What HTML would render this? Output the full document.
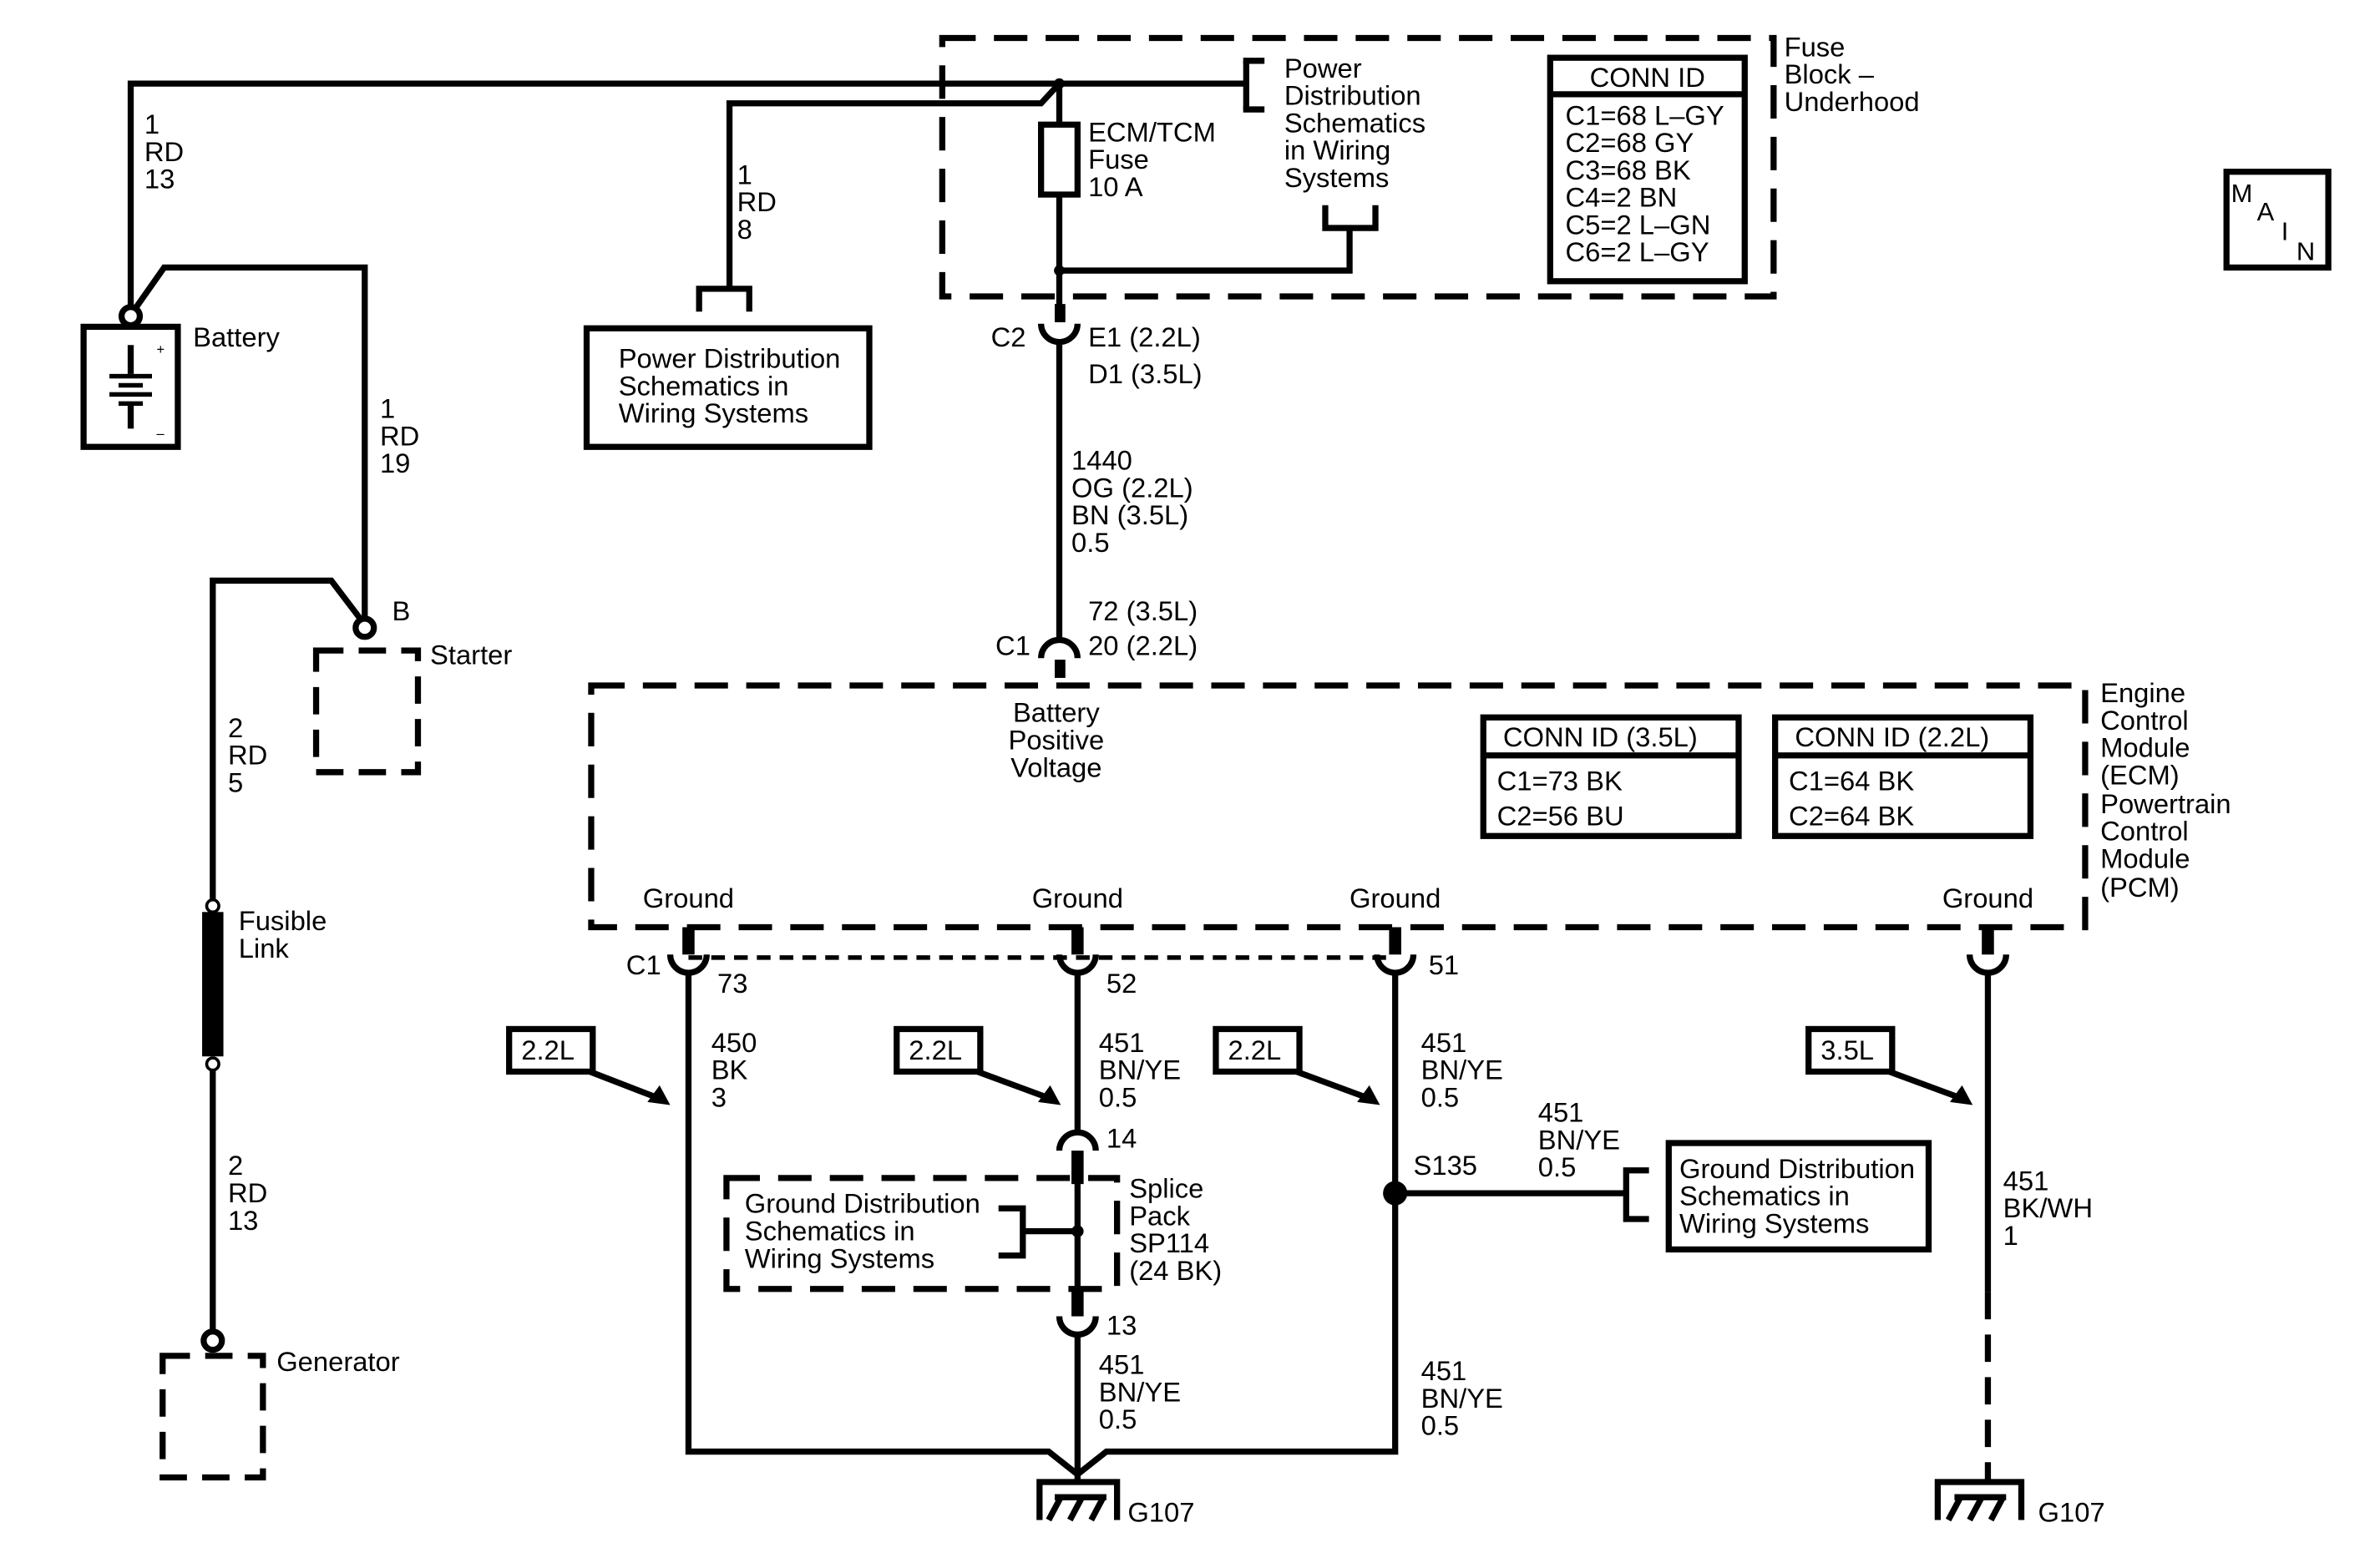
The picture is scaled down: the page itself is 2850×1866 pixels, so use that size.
<!DOCTYPE html>
<html><head><meta charset="utf-8"><style>
html,body{margin:0;padding:0;background:#fff}
svg{display:block}
text{font-family:"Liberation Sans",sans-serif;font-size:18px;fill:#000}
</style></head><body>
<svg width="2850" height="1866" viewBox="0 0 1566 1025" preserveAspectRatio="none" xmlns="http://www.w3.org/2000/svg">
<g fill="none" stroke="#000" stroke-width="4">
<polyline points="86,203 86,55 820,55"/>
<polyline points="480,190 480,68 685,68 697,55"/>
<polyline points="820,40 820,72"/><line x1="818" y1="40" x2="832" y2="40"/><line x1="818" y1="72" x2="832" y2="72"/>
<line x1="697" y1="55" x2="697" y2="205"/>
<rect x="685" y="82" width="24" height="46" fill="#fff"/>
<polyline points="697,178 888,178 888,150"/>
<polyline points="872,135 872,150 905,150 905,135"/>
<polyline points="460,205 460,190 493,190 493,205"/>
<rect x="620" y="25" width="547" height="170" stroke-dasharray="22,12"/>
<rect x="1020" y="38" width="128" height="147"/>
<line x1="1020" y1="62" x2="1148" y2="62"/>
<rect x="1465" y="113" width="67" height="63"/>
<path d="M685,213 A12,12 0 0 0 709,213"/>
<line x1="697" y1="225" x2="697" y2="420"/>
<path d="M685,433 A12,12 0 0 1 709,433"/>
<rect x="389" y="451" width="983" height="159" stroke-dasharray="22,12"/>
<rect x="976" y="472" width="168" height="78"/><line x1="976" y1="497" x2="1144" y2="497"/>
<rect x="1168" y="472" width="168" height="78"/><line x1="1168" y1="497" x2="1336" y2="497"/>
<path d="M441,628 A12,12 0 0 0 465,628"/>
<path d="M697,628 A12,12 0 0 0 721,628"/>
<path d="M906,628 A12,12 0 0 0 930,628"/>
<path d="M1296,628 A12,12 0 0 0 1320,628"/>
<line x1="453" y1="630" x2="918" y2="630" stroke-width="3" stroke-dasharray="9,6"/>
<polyline points="453,640 453,955 690,955 709,970 728,955 918,955 918,640"/>
<line x1="709" y1="640" x2="709" y2="745"/>
<path d="M697,757 A12,12 0 0 1 721,757"/>
<line x1="709" y1="778" x2="709" y2="848"/>
<path d="M697,866 A12,12 0 0 0 721,866"/>
<line x1="709" y1="878" x2="709" y2="975"/>
<polyline points="684,1000 684,975 735,975 735,1000"/>
<line x1="690" y1="1000" x2="698" y2="985"/><line x1="704" y1="1000" x2="712" y2="985"/><line x1="718" y1="1000" x2="726" y2="985"/><line x1="694" y1="985" x2="728" y2="985"/>
<rect x="478" y="775" width="257" height="73" stroke-dasharray="22,12"/>
<polyline points="657,795 673,795 673,826 657,826"/><line x1="673" y1="810" x2="709" y2="810"/>
<line x1="918" y1="785" x2="1070" y2="785"/>
<polyline points="1085,770 1070,770 1070,802 1085,802"/>
<rect x="1098" y="752" width="171" height="70"/>
<line x1="1308" y1="640" x2="1308" y2="850"/>
<line x1="1308" y1="850" x2="1308" y2="975" stroke-dasharray="18,10"/>
<polyline points="1275,1000 1275,975 1330,975 1330,1000"/>
<line x1="1282" y1="1000" x2="1290" y2="985"/><line x1="1296" y1="1000" x2="1304" y2="985"/><line x1="1310" y1="1000" x2="1318" y2="985"/><line x1="1286" y1="985" x2="1320" y2="985"/>
<rect x="335" y="677" width="55" height="28"/><line x1="388" y1="705" x2="432" y2="722"/>
<rect x="590" y="677" width="55" height="28"/><line x1="643" y1="705" x2="689" y2="722"/>
<rect x="800" y="677" width="55" height="28"/><line x1="853" y1="705" x2="899" y2="722"/>
<rect x="1190" y="677" width="55" height="28"/><line x1="1243" y1="705" x2="1289" y2="722"/>
<rect x="55" y="215" width="62" height="79"/>
<polyline points="89,203 108,176 240,176 240,407"/>
<circle cx="86" cy="208" r="6" fill="#fff"/>
<circle cx="240" cy="413" r="6" fill="#fff"/>
<polyline points="237,407 218,382 140,382 140,595"/>
<rect x="208" y="428" width="67" height="80" stroke-dasharray="18,10"/>
<line x1="140" y1="700" x2="140" y2="876"/>
<circle cx="140" cy="882" r="6" fill="#fff"/>
<rect x="107" y="892" width="66" height="80" stroke-dasharray="18,10"/>
<line x1="86" y1="227" x2="86" y2="246"/><line x1="86" y1="266" x2="86" y2="282"/>
</g>
<g fill="#000">
<rect x="694" y="200" width="7" height="12"/>
<rect x="694" y="434" width="7" height="12"/>
<rect x="449" y="610" width="8" height="18"/><rect x="705" y="610" width="8" height="18"/>
<rect x="914" y="610" width="8" height="18"/><rect x="1304" y="610" width="8" height="18"/>
<rect x="705" y="757" width="8" height="22"/><rect x="705" y="848" width="8" height="18"/>
<circle cx="697" cy="55" r="3.5"/><circle cx="697" cy="178" r="3.5"/>
<circle cx="918" cy="785" r="8"/><circle cx="709" cy="810" r="4"/>
<polygon points="441,727 426,725 434,714"/><polygon points="698,727 683,725 691,714"/>
<polygon points="908,727 893,725 901,714"/><polygon points="1298,727 1283,725 1291,714"/>
<rect x="133" y="600" width="14" height="95"/>
<circle cx="140" cy="596" r="4" fill="#fff" stroke="#000" stroke-width="2"/>
<circle cx="140" cy="700" r="4" fill="#fff" stroke="#000" stroke-width="2"/>
<rect x="72" y="246" width="28" height="3"/><rect x="78" y="252" width="16" height="3"/><rect x="72" y="258" width="28" height="3"/><rect x="78" y="264" width="16" height="3"/>
</g>
<text x="103" y="233" style="font-size:9px">+</text><text x="103" y="288" style="font-size:9px">–</text>
<text x="95" y="88">1</text><text x="95" y="106">RD</text><text x="95" y="124">13</text>
<text x="127" y="228">Battery</text>
<text x="485" y="121">1</text><text x="485" y="139">RD</text><text x="485" y="157">8</text>
<text x="250" y="275">1</text><text x="250" y="293">RD</text><text x="250" y="311">19</text>
<text x="407" y="242">Power Distribution</text><text x="407" y="260">Schematics in</text><text x="407" y="278">Wiring Systems</text>
<rect x="386" y="216" width="186" height="78" fill="none" stroke="#000" stroke-width="4"/>
<text x="258" y="408">B</text><text x="283" y="437">Starter</text>
<text x="150" y="485">2</text><text x="150" y="503">RD</text><text x="150" y="521">5</text>
<text x="157" y="612">Fusible</text><text x="157" y="630">Link</text>
<text x="150" y="773">2</text><text x="150" y="791">RD</text><text x="150" y="809">13</text>
<text x="182" y="902">Generator</text>
<text x="845" y="51">Power</text><text x="845" y="69">Distribution</text><text x="845" y="87">Schematics</text><text x="845" y="105">in Wiring</text><text x="845" y="123">Systems</text>
<text x="716" y="93">ECM/TCM</text><text x="716" y="111">Fuse</text><text x="716" y="129">10 A</text>
<text x="1046" y="57">CONN ID</text>
<text x="1030" y="82">C1=68 L–GY</text><text x="1030" y="100">C2=68 GY</text><text x="1030" y="118">C3=68 BK</text><text x="1030" y="136">C4=2 BN</text><text x="1030" y="154">C5=2 L–GN</text><text x="1030" y="172">C6=2 L–GY</text>
<text x="1174" y="37">Fuse</text><text x="1174" y="55">Block –</text><text x="1174" y="73">Underhood</text>
<text x="1468" y="133" style="font-size:17px">M</text><text x="1485" y="145" style="font-size:17px">A</text><text x="1501" y="158" style="font-size:17px">I</text><text x="1511" y="171" style="font-size:17px">N</text>
<text x="652" y="228">C2</text><text x="716" y="228">E1 (2.2L)</text><text x="716" y="252">D1 (3.5L)</text>
<text x="705" y="309">1440</text><text x="705" y="327">OG (2.2L)</text><text x="705" y="345">BN (3.5L)</text><text x="705" y="363">0.5</text>
<text x="716" y="408">72 (3.5L)</text><text x="655" y="431">C1</text><text x="716" y="431">20 (2.2L)</text>
<text x="695" y="475" text-anchor="middle">Battery</text><text x="695" y="493" text-anchor="middle">Positive</text><text x="695" y="511" text-anchor="middle">Voltage</text>
<text x="989" y="491">CONN ID (3.5L)</text><text x="985" y="520">C1=73 BK</text><text x="985" y="543">C2=56 BU</text>
<text x="1181" y="491">CONN ID (2.2L)</text><text x="1177" y="520">C1=64 BK</text><text x="1177" y="543">C2=64 BK</text>
<text x="1382" y="462">Engine</text><text x="1382" y="480">Control</text><text x="1382" y="498">Module</text><text x="1382" y="516">(ECM)</text><text x="1382" y="535">Powertrain</text><text x="1382" y="553">Control</text><text x="1382" y="571">Module</text><text x="1382" y="590">(PCM)</text>
<text x="453" y="597" text-anchor="middle">Ground</text><text x="709" y="597" text-anchor="middle">Ground</text><text x="918" y="597" text-anchor="middle">Ground</text><text x="1308" y="597" text-anchor="middle">Ground</text>
<text x="412" y="641">C1</text><text x="472" y="653">73</text><text x="728" y="653">52</text><text x="940" y="641">51</text>
<text x="343" y="697">2.2L</text><text x="598" y="697">2.2L</text><text x="808" y="697">2.2L</text><text x="1198" y="697">3.5L</text>
<text x="468" y="692">450</text><text x="468" y="710">BK</text><text x="468" y="728">3</text>
<text x="723" y="692">451</text><text x="723" y="710">BN/YE</text><text x="723" y="728">0.5</text>
<text x="935" y="692">451</text><text x="935" y="710">BN/YE</text><text x="935" y="728">0.5</text>
<text x="1012" y="738">451</text><text x="1012" y="756">BN/YE</text><text x="1012" y="774">0.5</text>
<text x="930" y="773">S135</text>
<text x="728" y="755">14</text><text x="728" y="878">13</text>
<text x="743" y="788">Splice</text><text x="743" y="806">Pack</text><text x="743" y="824">SP114</text><text x="743" y="842">(24 BK)</text>
<text x="490" y="798">Ground Distribution</text><text x="490" y="816">Schematics in</text><text x="490" y="834">Wiring Systems</text>
<text x="1105" y="775">Ground Distribution</text><text x="1105" y="793">Schematics in</text><text x="1105" y="811">Wiring Systems</text>
<text x="1318" y="783">451</text><text x="1318" y="801">BK/WH</text><text x="1318" y="819">1</text>
<text x="723" y="904">451</text><text x="723" y="922">BN/YE</text><text x="723" y="940">0.5</text>
<text x="935" y="908">451</text><text x="935" y="926">BN/YE</text><text x="935" y="944">0.5</text>
<text x="742" y="1001">G107</text><text x="1341" y="1001">G107</text>
</svg>
</body></html>
